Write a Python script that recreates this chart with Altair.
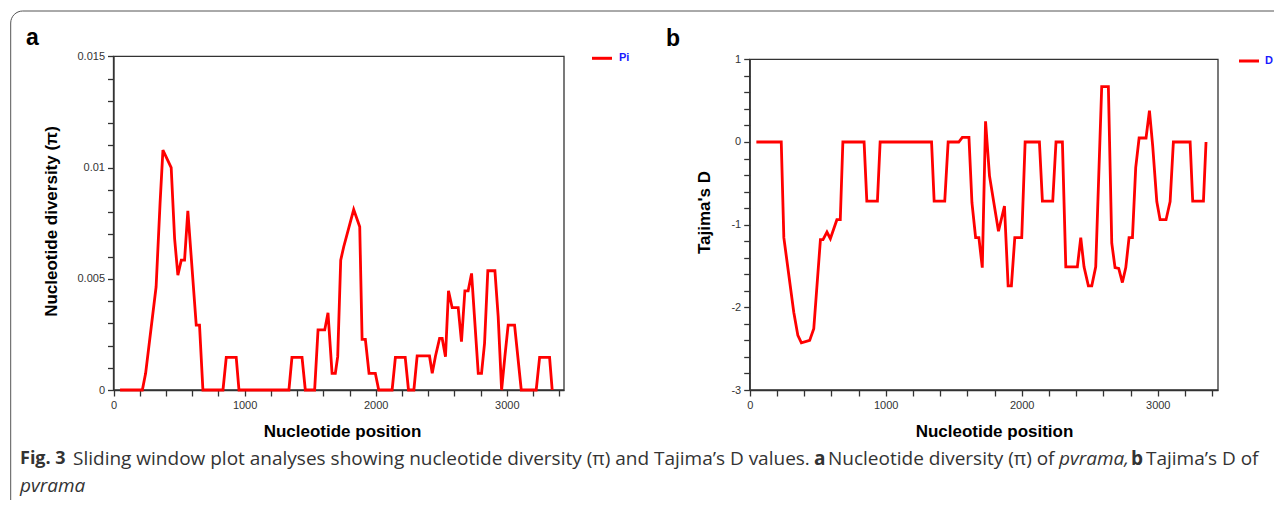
import altair as alt
import pandas as pd

# ---------------- data ----------------
pos_a = [50, 220, 245, 325, 355, 377, 440, 466, 491, 517, 542, 567, 631, 656, 682,
         835, 860, 936, 957, 1338, 1361, 1438, 1463, 1534, 1560, 1611, 1636, 1667,
         1692, 1710, 1733, 1756, 1832, 1878, 1896, 1921, 1949, 1997, 2023, 2125,
         2150, 2225, 2250, 2291, 2316, 2410, 2431, 2456, 2487, 2507, 2532, 2555,
         2583, 2629, 2654, 2680, 2705, 2731, 2782, 2807, 2830, 2855, 2909, 2934,
         2960, 2985, 3010, 3059, 3110, 3224, 3250, 3326, 3346]
pi_a = [0, 0, 0.00075, 0.00464, 0.00838, 0.01078, 0.0100, 0.00681, 0.00516, 0.00584,
        0.00584, 0.00805, 0.00292, 0.00292, 0, 0, 0.00147, 0.00147, 0, 0,
        0.00147, 0.00147, 0, 0, 0.0027, 0.0027, 0.00347, 0.00075, 0.00075, 0.0015,
        0.00584, 0.00644, 0.00811, 0.00734, 0.00228, 0.00228, 0.00075, 0.00075, 0, 0,
        0.00147, 0.00147, 0, 0, 0.00153, 0.00153, 0.00075, 0.00153, 0.00232, 0.00232,
        0.0015, 0.00446, 0.0037, 0.0037, 0.00217, 0.00446, 0.00446, 0.00524, 0.00075, 0.00075,
        0.0021, 0.00536, 0.00536, 0.0033, 0, 0.0015, 0.00292, 0.00292, 0, 0,
        0.00147, 0.00147, 0]

pos_b = [49, 232, 251, 324, 354, 380, 441, 471, 520, 539, 568, 593, 641, 666, 685,
         841, 861, 939, 959, 1337, 1356, 1434, 1459, 1537, 1563, 1612, 1634, 1661,
         1685, 1710, 1734, 1763, 1829, 1873, 1900, 1924, 1949, 2000, 2025, 2130,
         2152, 2228, 2252, 2299, 2324, 2409, 2434, 2458, 2490, 2515, 2544, 2588,
         2637, 2662, 2686, 2713, 2740, 2765, 2789, 2814, 2838, 2863, 2914, 2939,
         2963, 2993, 3017, 3061, 3091, 3115, 3238, 3257, 3336, 3355]
d_b = [0, 0, -1.157, -2.06, -2.34, -2.43, -2.40, -2.26, -1.18, -1.18,
       -1.09, -1.17, -0.94, -0.94, 0, 0, -0.715, -0.715, 0, 0,
       -0.715, -0.715, 0, 0, 0.056, 0.056, -0.735, -1.157, -1.157, -1.52,
       0.249, -0.41, -1.08, -0.775, -1.74, -1.74, -1.157, -1.157, 0, 0,
       -0.715, -0.715, 0, 0, -1.51, -1.51, -1.157, -1.51, -1.74, -1.74,
       -1.51, 0.67, 0.67, -1.225, -1.52, -1.53, -1.70, -1.52, -1.157, -1.157,
       -0.31, 0.048, 0.048, 0.38, -0.05, -0.72, -0.94, -0.94, -0.72, 0,
       0, -0.715, -0.715, 0]

x_ticks = list(range(0, 3401, 200))
pi_ticks = [round(i * 0.001, 3) for i in range(16)]
d_ticks = [round(-3 + i * 0.2, 1) for i in range(21)]

legend_a = "Pi"
legend_b = "D"
title_x = "Nucleotide position"
title_ya = "Nucleotide diversity (π)"
title_yb = "Tajima's D"

# ---------------- layout ----------------
W, H = 1266, 492
AX = "#333333"
RED = "#ff0000"
FONT = "Liberation Sans"
CAP_FONT = "Open Sans"
CAP_SIZE = 19
CAP_COLOR = "#333333"

one = pd.DataFrame({"_": [0]})


def axis(**kw):
    return alt.Axis(grid=False, domainColor=AX, domainWidth=1.3, tickColor=AX,
                    tickWidth=1.3, tickSize=6, labelFont=FONT, labelFontSize=11,
                    labelColor="#333333", labelPadding=3, labelOverlap=False,
                    labelFlush=False, titleFont=FONT, titleFontSize=17,
                    titleFontWeight="bold", titleColor="#000000",
                    titleBaseline="middle", titleAlign="center", **kw)


xlab = "datum.value % 1000 === 0 ? format(datum.value, 'd') : ''"
ya_lab = "round(datum.value * 1000) % 5 === 0 ? '' + round(datum.value * 1000) / 1000 : ''"
yb_lab = "abs(datum.value - round(datum.value)) < 0.001 ? '' + round(datum.value) : ''"

line_a = alt.Chart(pd.DataFrame({"pos_a": pos_a, "pi": pi_a})).mark_line(
    color=RED, strokeWidth=2.8).encode(
    x=alt.X("pos_a:Q",
            scale=alt.Scale(domain=[0, 3436], range=[105.5, 556], nice=False, zero=False),
            axis=axis(orient="bottom", offset=-(H - 382), values=x_ticks, labelExpr=xlab,
                      title=title_x, titleX=334, titleY=41)),
    y=alt.Y("pi:Q",
            scale=alt.Scale(domain=[0, 0.015], range=[382, 48.3], nice=False, zero=False),
            axis=axis(orient="left", offset=-105.5, values=pi_ticks, labelExpr=ya_lab,
                      title=title_ya, titleX=-62.5, titleY=213)),
)

line_b = alt.Chart(pd.DataFrame({"pos_b": pos_b, "D": d_b})).mark_line(
    color=RED, strokeWidth=2.8).encode(
    x=alt.X("pos_b:Q",
            scale=alt.Scale(domain=[0, 3443], range=[741.7, 1210], nice=False, zero=False),
            axis=axis(orient="bottom", offset=-(H - 382), values=x_ticks, labelExpr=xlab,
                      title=title_x, titleX=986, titleY=41)),
    y=alt.Y("D:Q",
            scale=alt.Scale(domain=[-3, 1], range=[382, 51.3], nice=False, zero=False),
            axis=axis(orient="left", offset=-741.7, values=d_ticks, labelExpr=yb_lab,
                      title=title_yb, titleX=-45.7, titleY=204)),
)


def box(x1, x2, y1, y2, **kw):
    return alt.Chart(one).mark_rect(fillOpacity=0, **kw).encode(
        x=alt.value(x1), x2=alt.value(x2), y=alt.value(y1), y2=alt.value(y2))


def txt(s, x, y, **kw):
    return alt.Chart(one).mark_text(text=s, **kw).encode(x=alt.value(x), y=alt.value(y))


def seg(x1, x2, y):
    return alt.Chart(one).mark_rule(color=RED, strokeWidth=3).encode(
        x=alt.value(x1), x2=alt.value(x2), y=alt.value(y))


outer = box(2.7, 1400, 3, 700, stroke="#555555", strokeWidth=1, cornerRadius=12)
box_a = box(105.5, 556, 48.3, 382, stroke=AX, strokeWidth=1.3)
box_b = box(741.7, 1210, 51.3, 382, stroke=AX, strokeWidth=1.3)

lab_a = txt("a", 18, 37, font=FONT, fontSize=23, fontWeight="bold", align="left",
            baseline="alphabetic", color="#000000")
lab_b = txt("b", 658, 38, font=FONT, fontSize=23, fontWeight="bold", align="left",
            baseline="alphabetic", color="#000000")

leg_a = [seg(584, 604, 50.3),
         txt(legend_a, 611, 50.3, font=FONT, fontSize=11, fontWeight="bold",
             color="#1a1aff", align="left", baseline="middle")]
leg_b = [seg(1231, 1251, 53),
         txt(legend_b, 1257, 53, font=FONT, fontSize=11, fontWeight="bold",
             color="#1a1aff", align="left", baseline="middle")]

cap_kw = dict(font=CAP_FONT, color=CAP_COLOR, align="left", baseline="middle")
caption = [
    txt("Fig. 3", 12, 451, fontWeight="bold", fontSize=18, **cap_kw),
    txt("Sliding window plot analyses showing nucleotide diversity (π) and Tajima’s D values.",
        65, 451, fontSize=CAP_SIZE, **cap_kw),
    txt("a", 806, 451, fontWeight="bold", fontSize=CAP_SIZE, **cap_kw),
    txt("Nucleotide diversity (π) of", 820, 451, fontSize=CAP_SIZE, **cap_kw),
    txt("pvrama,", 1051, 451, fontStyle="italic", fontSize=CAP_SIZE, **cap_kw),
    txt("b", 1123, 451, fontWeight="bold", fontSize=CAP_SIZE, **cap_kw),
    txt("Tajima’s D of", 1138, 451, fontSize=CAP_SIZE, **cap_kw),
    txt("pvrama", 12, 478, fontStyle="italic", fontSize=CAP_SIZE, **cap_kw),
]

chart = alt.layer(
    outer, box_a, box_b, line_a, line_b, lab_a, lab_b, *leg_a, *leg_b, *caption
).resolve_scale(x="independent", y="independent").properties(
    width=W, height=H, autosize=alt.AutoSizeParams(type="none"), padding=0
).configure_view(strokeWidth=0)

chart.save("out.html", embed_options={"renderer": "svg", "actions": False})
